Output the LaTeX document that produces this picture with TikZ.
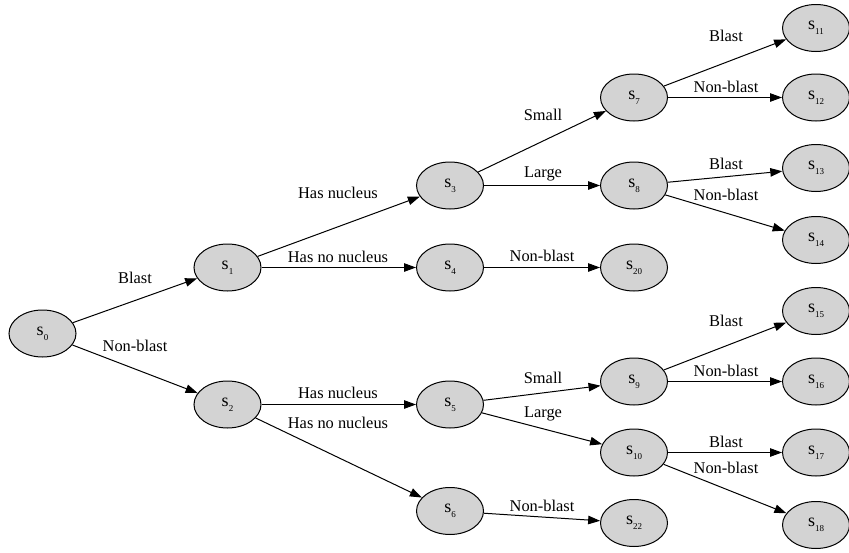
\documentclass[tikz,border=0pt]{standalone}
\usepackage{fontspec}
\setmainfont{Liberation Serif}
\usetikzlibrary{shapes.geometric,arrows.meta}
\definecolor{statefill}{RGB}{211,211,211}
\newcommand{\stname}[1]{\fontsize{18}{18}\selectfont s\raisebox{-5pt}{\fontsize{9}{9}\selectfont #1}}
\tikzset{
  state/.style={ellipse, draw=black, line width=1pt, fill=statefill,
    minimum width=67pt, minimum height=47pt, inner sep=0pt},
  trans/.style={draw=black, line width=1pt, -{Triangle[length=12pt,width=8.5pt]}},
  lbl/.style={font=\fontsize{16.4}{18}\selectfont, inner sep=0pt}
}
\begin{document}
\begin{tikzpicture}[x=1pt,y=-1pt]
\useasboundingbox (0,0) rectangle (849,552);
% states, column by column
\node[state] (s0)  at (42.5,333.5) {\stname{0}};
\node[state] (s1)  at (227.5,267.5) {\stname{1}};
\node[state] (s2)  at (227.5,404.5) {\stname{2}};
\node[state] (s3)  at (450,185.5) {\stname{3}};
\node[state] (s4)  at (450,267.5) {\stname{4}};
\node[state] (s5)  at (450,404.5) {\stname{5}};
\node[state] (s6)  at (450,511)   {\stname{6}};
\node[state] (s7)  at (634,97.5)  {\stname{7}};
\node[state] (s8)  at (634,185.5) {\stname{8}};
\node[state] (s20) at (634,267.5) {\stname{20}};
\node[state] (s9)  at (634,381.5) {\stname{9}};
\node[state] (s10) at (634,452.5) {\stname{10}};
\node[state] (s22) at (634,523)   {\stname{22}};
\node[state] (s11) at (816,28)    {\stname{11}};
\node[state] (s12) at (816,97.5)  {\stname{12}};
\node[state] (s13) at (816,168)   {\stname{13}};
\node[state] (s14) at (816,240)   {\stname{14}};
\node[state] (s15) at (816,311)   {\stname{15}};
\node[state] (s16) at (816,381.5) {\stname{16}};
\node[state] (s17) at (816,452.5) {\stname{17}};
\node[state] (s18) at (816,525)   {\stname{18}};
% transitions
\draw[trans] (s0) -- (s1);
\draw[trans] (s0) -- (s2);
\draw[trans] (s1) -- (s3);
\draw[trans] (s1) -- (s4);
\draw[trans] (s2) -- (s5);
\draw[trans] (s2) -- (s6);
\draw[trans] (s3) -- (s7);
\draw[trans] (s3) -- (s8);
\draw[trans] (s4) -- (s20);
\draw[trans] (s5) -- (s9);
\draw[trans] (s5) -- (s10);
\draw[trans] (s6) -- (s22);
\draw[trans] (s7) -- (s11);
\draw[trans] (s7) -- (s12);
\draw[trans] (s8) -- (s13);
\draw[trans] (s8) -- (s14);
\draw[trans] (s9) -- (s15);
\draw[trans] (s9) -- (s16);
\draw[trans] (s10) -- (s17);
\draw[trans] (s10) -- (s18);
% transition labels
\node[lbl] (l01)  at (135,278) {Blast};
\node[lbl] (l02)  at (135,346) {Non-blast};
\node[lbl] (l13)  at (338,193) {Has nucleus};
\node[lbl] (l14)  at (338,257) {Has no nucleus};
\node[lbl] (l25)  at (338,393) {Has nucleus};
\node[lbl] (l26)  at (338,423) {Has no nucleus};
\node[lbl] (l37)  at (543,115) {Small};
\node[lbl] (l38)  at (543,174) {Large};
\node[lbl] (l420) at (542,256) {Non-blast};
\node[lbl] (l59)  at (543,378) {Small};
\node[lbl] (l510) at (543,414) {Large};
\node[lbl] (l622) at (542,506) {Non-blast};
\node[lbl] (l711) at (726,36)  {Blast};
\node[lbl] (l712) at (726,87)  {Non-blast};
\node[lbl] (l813) at (726,164) {Blast};
\node[lbl] (l814) at (726,195) {Non-blast};
\node[lbl] (l915) at (726,321) {Blast};
\node[lbl] (l916) at (726,371) {Non-blast};
\node[lbl] (l1017) at (726,442) {Blast};
\node[lbl] (l1018) at (726,468) {Non-blast};
\end{tikzpicture}
\end{document}
